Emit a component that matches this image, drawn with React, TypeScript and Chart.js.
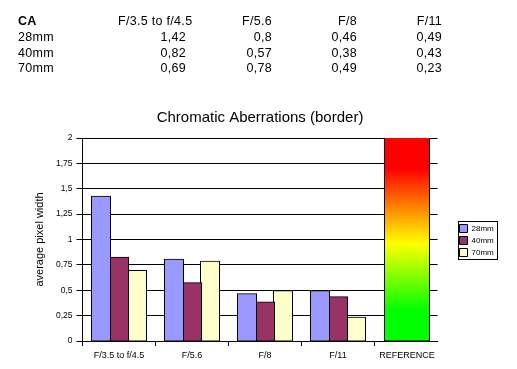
import React, { useEffect, useRef } from "react";
import { Chart, registerables } from "chart.js";

Chart.register(...registerables);

// ---------- data ----------
const tableCorner = "CA";
const apertures = ["F/3.5 to f/4.5", "F/5.6", "F/8", "F/11"];
const focalLengths = ["28mm", "40mm", "70mm"];
const ca28mm = [1.42, 0.8, 0.46, 0.49];
const ca40mm = [0.82, 0.57, 0.38, 0.43];
const ca70mm = [0.69, 0.78, 0.49, 0.23];
const seriesValues = [ca28mm, ca40mm, ca70mm];
const referenceLabel = "REFERENCE";
const referenceValue = 2;
const yTickValues = [0, 0.25, 0.5, 0.75, 1, 1.25, 1.5, 1.75, 2];
const chartTitle = "Chromatic Aberrations (border)";
const yAxisTitle = "average pixel width";

// ---------- style ----------
const seriesColors = ["#9999FF", "#993366", "#FFFFCC"];
const FONT = "'Liberation Sans', Arial, Helvetica, sans-serif";
const X_MAX = 4.863; // plot width in category units (4 categories + narrower reference slot)
const REF_POS = 4.445; // centre of the reference slot

Chart.defaults.font.family = FONT;
Chart.defaults.color = "#000";

const fmt = (v: number) => String(v).replace(".", ",");

const xTicks: { value: number; label: string; boundary: boolean }[] = [];
apertures.forEach((a, i) => {
  xTicks.push({ value: i, label: "", boundary: true });
  xTicks.push({ value: i + 0.5, label: a, boundary: false });
});
xTicks.push({ value: apertures.length, label: "", boundary: true });
xTicks.push({ value: REF_POS, label: referenceLabel, boundary: false });

const referenceFill = (ctx: any) => {
  const chart = ctx.chart;
  const y = chart && chart.scales ? chart.scales.y : null;
  if (!y || !chart.chartArea) return "#ff0000";
  const top = y.getPixelForValue(referenceValue);
  const bottom = y.getPixelForValue(0);
  if (!isFinite(top) || !isFinite(bottom)) return "#ff0000";
  const g = chart.ctx.createLinearGradient(0, top, 0, bottom);
  g.addColorStop(0, "#ff0000");
  g.addColorStop(0.15, "#ff0000");
  g.addColorStop(0.52, "#ffff00");
  g.addColorStop(0.85, "#00ff00");
  g.addColorStop(1, "#00ff00");
  return g;
};

const legendFrame = {
  id: "legendFrame",
  afterDraw(chart: any) {
    const lg = chart.legend;
    const hb = lg && lg.legendHitBoxes;
    if (!hb || !hb.length) return;
    let l = Infinity, t = Infinity, r = -Infinity, b = -Infinity;
    hb.forEach((h: any) => {
      l = Math.min(l, h.left);
      t = Math.min(t, h.top);
      r = Math.max(r, h.left + h.width);
      b = Math.max(b, h.top + h.height);
    });
    const x0 = Math.round(l - 1.5);
    const y0 = Math.round(t - 3.5);
    const x1 = Math.round(r + 3);
    const y1 = Math.round(b + 2.5);
    const ctx = chart.ctx;
    ctx.save();
    ctx.strokeStyle = "#000";
    ctx.lineWidth = 1;
    ctx.strokeRect(x0 + 0.5, y0 + 0.5, x1 - x0, y1 - y0);
    ctx.restore();
  },
};

export default function App() {
  const canvasRef = useRef<HTMLCanvasElement | null>(null);

  useEffect(() => {
    if (!canvasRef.current) return;
    const barCommon = {
      borderColor: "#000",
      borderWidth: 1,
      borderSkipped: false,
      inflateAmount: 1,
      xAxisID: "x",
      yAxisID: "y",
    };
    const datasets: any[] = focalLengths.map((name, s) => ({
      ...barCommon,
      label: name,
      data: apertures.map((_, i) => ({ x: i + 0.5, y: seriesValues[s][i] })),
      backgroundColor: seriesColors[s],
      barThickness: 18,
    }));
    datasets.push({
      ...barCommon,
      label: referenceLabel,
      data: [{ x: REF_POS, y: referenceValue }],
      backgroundColor: referenceFill,
      barThickness: 44,
      grouped: false,
    });

    const chart = new Chart(canvasRef.current, {
      type: "bar",
      data: { datasets },
      plugins: [legendFrame],
      options: {
        animation: false,
        responsive: false,
        devicePixelRatio: 1,
        events: [],
        layout: { padding: { top: 100, left: 0, right: 21.5, bottom: 0 } },
        scales: {
          x: {
            type: "linear",
            min: 0,
            max: X_MAX,
            offset: false,
            afterBuildTicks: (scale: any) => {
              scale.ticks = xTicks.map((t) => ({ value: t.value }));
            },
            afterFit: (scale: any) => {
              scale.height = 28;
            },
            grid: {
              offset: false,
              drawOnChartArea: false,
              drawTicks: true,
              tickLength: 5,
              lineWidth: 1,
              color: (c: any) => {
                const v = c.tick ? c.tick.value : -1;
                const t = xTicks.find((k) => k.value === v);
                return t && t.boundary ? "#000" : "rgba(0,0,0,0)";
              },
            },
            border: { display: true, color: "#000", width: 1, z: 1 },
            ticks: {
              autoSkip: false,
              maxRotation: 0,
              minRotation: 0,
              padding: 4,
              color: "#000",
              font: { size: 9 },
              callback: (v: any) => {
                const t = xTicks.find((k) => k.value === v);
                return t ? t.label : "";
              },
            },
          },
          y: {
            type: "linear",
            position: "left",
            min: 0,
            max: 2,
            afterBuildTicks: (scale: any) => {
              scale.ticks = yTickValues.map((v) => ({ value: v }));
            },
            afterFit: (scale: any) => {
              scale.width = 82.5;
            },
            grid: { color: "#000", lineWidth: 1, tickLength: 6, drawTicks: true },
            border: { display: true, color: "#000", width: 1, z: 1 },
            ticks: {
              padding: 4,
              color: "#000",
              font: { size: 8.5 },
              callback: (v: any) => fmt(Number(v)),
            },
            title: {
              display: true,
              text: yAxisTitle,
              color: "#000",
              font: { size: 11 },
              padding: { top: 33, bottom: 0 },
            },
          },
          spacer: {
            type: "linear",
            position: "right",
            display: true,
            grid: { display: false, drawTicks: false },
            border: { display: false },
            ticks: { display: false },
            afterFit: (scale: any) => {
              scale.width = 18;
            },
          },
        },
        plugins: {
          tooltip: { enabled: false },
          title: {
            display: true,
            text: chartTitle,
            fullSize: false,
            color: "#000",
            font: { size: 15, weight: "normal" },
            padding: { top: 8.5, bottom: 11.5 },
          },
          legend: {
            position: "right",
            align: "center",
            fullSize: false,
            maxWidth: 40,
            title: { display: true, text: "", padding: 0, font: { size: 1, lineHeight: "2px" } },
            labels: {
              boxWidth: 8,
              boxHeight: 8,
              padding: 4,
              color: "#000",
              font: { size: 8 },
              filter: (item: any) => item.datasetIndex < focalLengths.length,
            },
          },
        },
      } as any,
    });
    return () => chart.destroy();
  }, []);

  const cell: React.CSSProperties = {
    padding: 0,
    height: "15.6px",
    lineHeight: "15.6px",
    textAlign: "right",
    whiteSpace: "nowrap",
  };
  const colWidths = [100, 68, 86, 85, 85];

  return (
    <div style={{ position: "absolute", left: 0, top: 0, width: 517, height: 369, background: "#fff", overflow: "hidden" }}>
      <canvas ref={canvasRef} width={517} height={369} style={{ position: "absolute", left: 0, top: 0, width: 517, height: 369 }} />
      <table
        style={{
          position: "absolute",
          left: 18,
          top: 14.4,
          borderCollapse: "collapse",
          tableLayout: "fixed",
          width: colWidths.reduce((a, b) => a + b, 0),
          fontFamily: FONT,
          fontSize: "12.5px",
          letterSpacing: "0.3px",
          color: "#000",
        }}
      >
        <colgroup>
          {colWidths.map((w, i) => (
            <col key={i} style={{ width: w }} />
          ))}
        </colgroup>
        <tbody>
          <tr>
            <td style={{ ...cell, textAlign: "left", fontWeight: "bold" }}>{tableCorner}</td>
            {apertures.map((a) => (
              <td key={a} style={cell}>{a}</td>
            ))}
          </tr>
          {focalLengths.map((f, s) => (
            <tr key={f}>
              <td style={{ ...cell, textAlign: "left" }}>{f}</td>
              {seriesValues[s].map((v, i) => (
                <td key={i} style={cell}>{fmt(v)}</td>
              ))}
            </tr>
          ))}
        </tbody>
      </table>
    </div>
  );
}
